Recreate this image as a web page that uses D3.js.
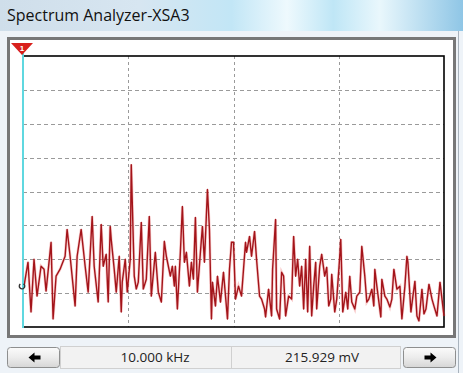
<!DOCTYPE html>
<html>
<head>
<meta charset="utf-8">
<script src="https://cdnjs.cloudflare.com/ajax/libs/d3/7.8.5/d3.min.js"></script>
<style>
  body { margin: 0; background: #f0f4f8; }
  svg { display: block; }
</style>
</head>
<body>
<div id="chart"></div>
<script>
// spectrum trace: frequency (kHz) and level (mV)
var freq = [0.05,0.25,0.40,0.55,0.70,0.90,1.05,1.15,1.40,1.50,1.65,1.85,2.10,2.20,2.35,2.60,2.70,2.90,3.10,3.25,
  3.45,3.55,3.75,3.90,4.00,4.15,4.25,4.35,4.40,4.55,4.65,4.80,4.90,4.95,5.10,5.20,5.35,5.40,5.55,5.65,
  5.75,5.90,6.00,6.15,6.30,6.40,6.60,6.75,6.90,7.05,7.15,7.35,7.45,7.55,7.60,7.70,7.85,7.95,8.05,8.15,
  8.30,8.40,8.50,8.60,8.70,8.85,8.95,9.05,9.20,9.30,9.40,9.45,9.60,9.70,9.85,10.00,10.20,10.30,10.40,10.50,
  10.60,10.75,10.90,11.00,11.10,11.15,11.30,11.40,11.55,11.65,11.80,11.90,12.05,12.10,12.25,12.40,12.45,12.60,12.65,12.80,
  12.90,13.00,13.10,13.25,13.40,13.50,13.60,13.70,13.80,13.90,14.00,14.10,14.20,14.30,14.40,14.50,14.60,14.65,14.80,14.90,
  15.05,15.15,15.25,15.35,15.40,15.55,15.65,15.80,15.85,15.95,16.10,16.20,16.30,16.40,16.55,16.65,16.80,16.90,17.05,17.15,
  17.25,17.40,17.50,17.55,17.65,17.85,17.90,18.05,18.15,18.30,18.40,18.50,18.65,18.80,18.90,19.05,19.15,19.20,19.35,19.45,
  19.55,19.65,19.75,19.90,20.00,20.10,20.25,20.40,20.50,20.65,20.80,20.90,21.00];
var level = [41,65,15,68,31,61,58,36,85,8,51,58,71,98,71,21,71,98,61,35,
  111,61,25,103,61,73,25,101,88,58,35,71,15,45,68,35,68,163,51,38,
  45,105,38,48,111,31,75,35,25,86,71,51,61,41,61,18,75,121,65,75,
  41,65,48,110,35,75,101,65,138,98,8,45,21,51,25,55,8,58,85,85,
  28,41,31,58,85,75,91,71,96,68,31,28,18,10,38,11,58,108,18,8,
  55,51,11,31,28,91,51,68,41,61,18,68,15,81,11,41,65,18,61,73,
  51,60,21,28,53,15,28,71,88,15,35,18,51,25,18,31,35,81,51,25,
  28,38,21,58,41,10,48,31,28,20,28,58,38,41,8,41,71,65,15,31,
  46,11,6,38,13,18,43,28,21,11,45,28,11];

var freqMax = 21, levelMax = 272;
var xDivisions = 4, yDivisions = 8;
var title = "Spectrum Analyzer-XSA3";
var readout = ["10.000 kHz", "215.929 mV"];

var width = 463, height = 373;
var plot = {left: 23, right: 444, top: 56, bottom: 327};

var svg = d3.select("#chart").append("svg")
    .attr("width", width)
    .attr("height", height);

var defs = svg.append("defs");
var tg = defs.append("linearGradient").attr("id", "titlebar");
[["0%", "#cfdeea"], ["30%", "#d7e6f1"], ["50%", "#c2e6f6"], ["62%", "#eef9fd"], ["72%", "#bfe6f6"], ["82%", "#e9f7fc"], ["100%", "#8fc6e6"]]
    .forEach(function(s) { tg.append("stop").attr("offset", s[0]).attr("stop-color", s[1]); });
var bg = defs.append("linearGradient").attr("id", "btn").attr("x1", 0).attr("x2", 0).attr("y1", 0).attr("y2", 1);
bg.append("stop").attr("offset", "0%").attr("stop-color", "#fbfbfb");
bg.append("stop").attr("offset", "50%").attr("stop-color", "#ececec");
bg.append("stop").attr("offset", "100%").attr("stop-color", "#d6d6d6");

// window
svg.append("rect").attr("width", width).attr("height", height).attr("fill", "#eef3f8");
svg.append("rect").attr("width", width).attr("height", 31).attr("fill", "url(#titlebar)");
svg.append("text")
    .attr("x", 7).attr("y", 21)
    .attr("font-family", "'Open Sans', sans-serif")
    .attr("font-size", 16)
    .attr("fill", "#111")
    .text(title);
svg.append("line").attr("x1", 458.5).attr("x2", 458.5).attr("y1", 31).attr("y2", height)
    .attr("stroke", "#a9b3bd").attr("stroke-width", 1);

// instrument frame
svg.append("rect")
    .attr("x", 8.5).attr("y", 38.5).attr("width", 446).attr("height", 298)
    .attr("fill", "#fff").attr("stroke", "#777").attr("stroke-width", 3);

var x = d3.scaleLinear().domain([0, freqMax]).range([plot.left, plot.right]);
var y = d3.scaleLinear().domain([0, levelMax]).range([plot.bottom, plot.top]);

var g = svg.append("g");

// grid
g.selectAll("line.gx")
    .data(d3.range(1, xDivisions).map(function(i) { return freqMax * i / xDivisions; }))
    .enter().append("line")
    .attr("class", "gx")
    .attr("x1", function(d) { return Math.round(x(d)) + 0.5; })
    .attr("x2", function(d) { return Math.round(x(d)) + 0.5; })
    .attr("y1", plot.top).attr("y2", plot.bottom)
    .attr("stroke", "#9a9a9a").attr("stroke-dasharray", "3,3");

g.selectAll("line.gy")
    .data(d3.range(1, yDivisions).map(function(i) { return levelMax * i / yDivisions; }))
    .enter().append("line")
    .attr("class", "gy")
    .attr("x1", plot.left).attr("x2", plot.right)
    .attr("y1", function(d) { return Math.round(y(d)) + 0.5; })
    .attr("y2", function(d) { return Math.round(y(d)) + 0.5; })
    .attr("stroke", "#9a9a9a").attr("stroke-dasharray", "4,3");

// plot border
g.append("rect")
    .attr("x", plot.left).attr("y", plot.top)
    .attr("width", plot.right - plot.left).attr("height", plot.bottom - plot.top)
    .attr("fill", "none").attr("stroke", "#000").attr("stroke-width", 1.6);

// trace
var pts = freq.map(function(f, i) { return [f, level[i]]; });
var line = d3.line()
    .x(function(d) { return x(d[0]); })
    .y(function(d) { return y(d[1]); });

g.append("path").datum(pts)
    .attr("d", line)
    .attr("fill", "none").attr("stroke", "#ec6a6a").attr("stroke-width", 2.8).attr("opacity", 0.35);
g.append("path").datum(pts)
    .attr("d", line)
    .attr("fill", "none").attr("stroke", "#a3141a").attr("stroke-width", 1.4)
    .attr("stroke-linejoin", "round");

// cursor
g.append("line")
    .attr("x1", plot.left).attr("x2", plot.left)
    .attr("y1", 43).attr("y2", plot.bottom + 1)
    .attr("stroke", "#5fd8e0").attr("stroke-width", 2);
g.append("path")
    .attr("d", "M11,43 L33,43 L22,55 Z")
    .attr("fill", "#d8201c");
g.append("text")
    .attr("x", 22).attr("y", 51)
    .attr("text-anchor", "middle")
    .attr("font-family", "Arial, sans-serif").attr("font-size", 8).attr("font-weight", "bold")
    .attr("fill", "#fff").text("1");
g.append("path")
    .attr("d", d3.arc()({innerRadius: 2, outerRadius: 3.4, startAngle: 0.6, endAngle: 5.6}))
    .attr("transform", "translate(" + (plot.left - 1) + "," + y(level[0]) + ")")
    .attr("fill", "#333");

// bottom controls
var bar = svg.append("g");
bar.append("rect").attr("x", 60.5).attr("y", 346.5).attr("width", 171).attr("height", 22)
    .attr("fill", "#f2f2f2").attr("stroke", "#d0d0d0");
bar.append("rect").attr("x", 231.5).attr("y", 346.5).attr("width", 169).attr("height", 22)
    .attr("fill", "#f2f2f2").attr("stroke", "#d0d0d0");

// arrow buttons: dir -1 points left, +1 points right
[[7.5, -1], [403.5, 1]].forEach(function(b) {
    bar.append("rect").attr("x", b[0]).attr("y", 347.5).attr("width", 52).attr("height", 20)
        .attr("rx", 3).attr("fill", "url(#btn)").attr("stroke", "#8e8f8f");
    var cx = b[0] + 27, cy = 357.5, s = b[1];
    bar.append("path")
        .attr("d", "M" + (cx + s * 6) + "," + cy + " L" + cx + "," + (cy - 5) + " L" + cx + "," + (cy - 2) +
            " L" + (cx - s * 6) + "," + (cy - 2) + " L" + (cx - s * 6) + "," + (cy + 2) +
            " L" + cx + "," + (cy + 2) + " L" + cx + "," + (cy + 5) + " Z")
        .attr("fill", "#000");
});

bar.selectAll("text.readout")
    .data(readout)
    .enter().append("text")
    .attr("class", "readout")
    .attr("x", function(d, i) { return i === 0 ? 155 : 322; })
    .attr("y", 362)
    .attr("text-anchor", "middle")
    .attr("font-family", "'Open Sans', sans-serif").attr("font-size", 13.5)
    .attr("fill", "#222")
    .text(function(d) { return d; });
</script>
</body>
</html>
